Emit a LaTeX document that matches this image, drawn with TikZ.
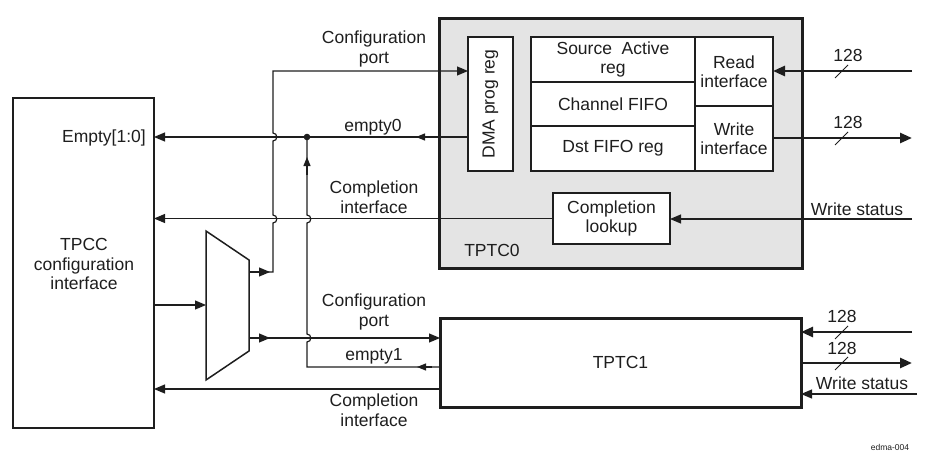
\documentclass[tikz,border=0pt]{standalone}
\usepackage{fontspec}
\setmainfont{Liberation Sans}
\usetikzlibrary{arrows.meta}
\definecolor{ink}{HTML}{1E1E1E}
\definecolor{shade}{HTML}{E4E4E4}
\begin{document}
\begin{tikzpicture}[x=1pt,y=-1pt,
  lbl/.style={font=\fontsize{17.5}{19.5}\selectfont, align=center, inner sep=0pt, text=ink},
  box/.style={draw=ink, line width=1.5pt, fill=white, inner sep=0pt, outer sep=0pt, anchor=north west},
  bigbox/.style={draw=ink, line width=3pt, inner sep=0pt, outer sep=0pt, anchor=north west},
  wire/.style={draw=ink, line width=1.2pt},
  bus/.style={draw=ink, line width=2.6pt},
  tip/.style={-{Triangle[length=11pt,width=9pt]}},
  bustip/.style={-{Triangle[length=12pt,width=10pt]}},
  smalltip/.style={-{Triangle[length=9pt,width=7pt]}},
  slash/.style={draw=ink, line width=0.9pt}
]
\useasboundingbox (0,0) rectangle (948,460);

% ---------- blocks ----------
\node[bigbox, line width=2.5pt, minimum width=141pt, minimum height=330pt] (tpcc) at (13,98) {};
\node[lbl] (tpcctxt) at (84,264) {TPCC\\configuration\\interface};
\node[lbl, anchor=east] (emptylbl) at (146,138) {Empty[1:0]};

\node[bigbox, fill=shade, minimum width=363pt, minimum height=249pt] (tptc0) at (439,19) {};
\node[box, minimum width=45pt, minimum height=134pt] (dma) at (468,37) {};
\node[lbl, rotate=90] (dmatxt) at (dma.center) {DMA prog reg};
\node[box, minimum width=164pt, minimum height=45pt] (src) at (531,37) {};
\node[lbl] at (src.center) {Source\ \ Active\\reg};
\node[box, minimum width=164pt, minimum height=44pt] (chan) at (531,82) {};
\node[lbl] at (chan.center) {Channel FIFO};
\node[box, minimum width=164pt, minimum height=45pt] (dst) at (531,126) {};
\node[lbl] at (dst.center) {Dst FIFO reg};
\node[box, minimum width=78pt, minimum height=69pt] (rd) at (695,37) {};
\node[lbl] at (rd.center) {Read\\interface};
\node[box, minimum width=78pt, minimum height=65pt] (wr) at (695,106) {};
\node[lbl] at (wr.center) {Write\\interface};
\node[box, minimum width=117pt, minimum height=51pt] (cl) at (553,193) {};
\node[lbl] at (cl.center) {Completion\\lookup};
\node[lbl] (tptc0lbl) at (492,250) {TPTC0};

\node[bigbox, fill=white, minimum width=361pt, minimum height=89pt] (tptc1) at (440,318) {};
\node[lbl] (tptc1lbl) at (tptc1.center) {TPTC1};

% ---------- multiplexer ----------
\coordinate (mA) at (206,231);
\coordinate (mB) at (249,260);
\coordinate (mC) at (249,351);
\coordinate (mD) at (206,380);
\draw[ink, line width=1.5pt, line join=miter] (mA) -- (mB) -- (mC) -- (mD) -- cycle;
\coordinate (mIn) at (206,305);
\coordinate (mO1) at (249,272);
\coordinate (mO2) at (249,338);

% ---------- wires ----------
\draw[wire, tip] (tpcc.east |- mIn) -- (mIn);

% mux output 1 -> configuration port of TPTC0
\draw[wire, tip] (mO1) -- (270,272);
\draw[wire, tip] (mO1) -- (273,272) -- (273,223)
   .. controls (278,223) and (278,215) .. (273,215) -- (273,141)
   .. controls (278,141) and (278,133) .. (273,133) -- (273,71) -- (dma.west |- 0,71);

% mux output 2 -> configuration port of TPTC1
\draw[wire, tip] (mO2) -- (270,338);
\draw[wire, tip] (mO2) -- (tptc1.west |- mO2);

% empty0
\coordinate (dot) at (307,137);
\draw[wire, tip] (dma.west |- dot) -- (tpcc.east |- dot);
\draw[wire, smalltip] (432,137) -- (416,137);
\fill[ink] (dot) circle (3.3pt);

% empty1 up to dot
\draw[wire] (tptc1.west |- 0,367) -- (307,367) -- (307,342)
   .. controls (312,342) and (312,334) .. (307,334) -- (307,223)
   .. controls (312,223) and (312,215) .. (307,215) -- (dot);
\draw[wire, smalltip] (432,367) -- (417,367);
\draw[wire, smalltip] (307,175) -- (307,157);

% completion interfaces
\draw[wire, tip] (cl.west) -- (tpcc.east |- cl.west);
\draw[wire, tip] (tptc1.west |- 0,389) -- (tpcc.east |- 0,389);

% TPTC0 right side
\coordinate (r1) at (912,71);
\coordinate (r2) at (912,138);
\coordinate (r3) at (912,219);
\draw[bus, bustip] (r1) -- (rd.east |- r1);
\draw[bus, bustip] (wr.east |- r2) -- (r2);
\draw[wire, tip] (r3) -- (cl.east |- r3);
\draw[slash] (835,78) -- (848,65);
\draw[slash] (835,145) -- (848,132);
\node[lbl] at (848,55) {128};
\node[lbl] at (848,122) {128};
\node[lbl] at (857,209) {Write status};

% TPTC1 right side
\coordinate (s1) at (912,332);
\coordinate (s2) at (912,363);
\coordinate (s3) at (917,394);
\draw[bus, bustip] (s1) -- (tptc1.east |- s1);
\draw[bus, bustip] (tptc1.east |- s2) -- (s2);
\draw[wire, tip] (s3) -- (tptc1.east |- s3);
\draw[slash] (835,339) -- (848,326);
\draw[slash] (835,370) -- (848,357);
\node[lbl] at (842,316) {128};
\node[lbl] at (842,348) {128};
\node[lbl] at (862,383) {Write status};

% wire labels
\node[lbl] at (374,49) {Configuration\\port};
\node[lbl] at (373,127) {empty0};
\node[lbl] at (374,197) {Completion\\interface};
\node[lbl] at (374,312) {Configuration\\port};
\node[lbl] at (374,356) {empty1};
\node[lbl] at (374,410) {Completion\\interface};

\node[font=\fontsize{8.5}{9}\selectfont, text=ink, inner sep=0pt] at (890,447) {edma-004};
\end{tikzpicture}
\end{document}
